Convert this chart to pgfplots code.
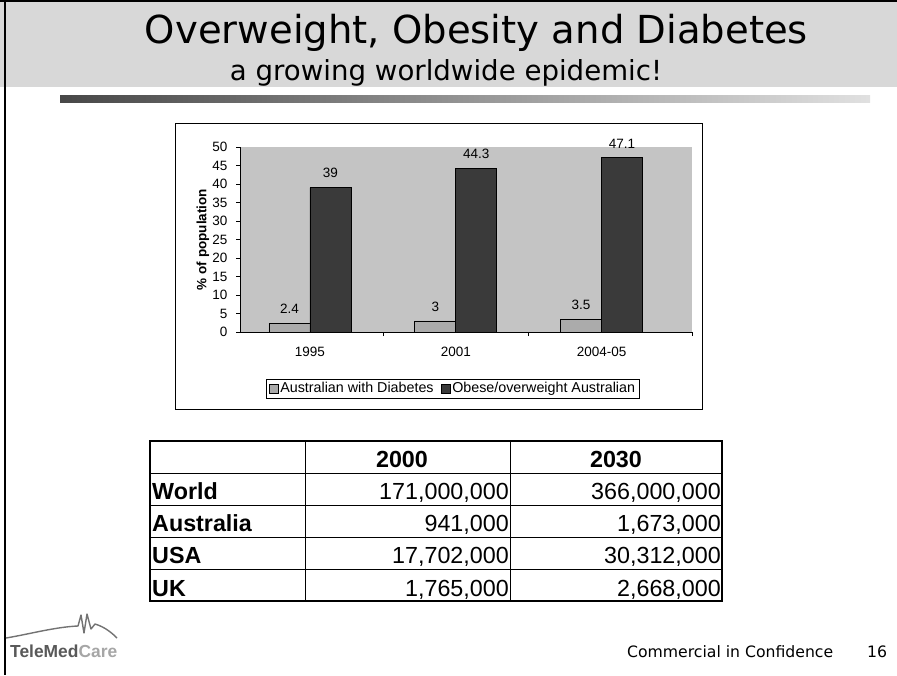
\documentclass[border=0pt]{standalone}
\usepackage{fontspec}
\setmainfont{Liberation Sans}
\newfontfamily\verd{DejaVu Sans}
\usepackage{graphicx}
\usepackage{pgfplots}
\pgfplotsset{compat=1.18}

\definecolor{hdrgray}{HTML}{D8D8D8}
\definecolor{plotgray}{HTML}{C4C4C4}
\definecolor{diabgray}{HTML}{ABABAB}
\definecolor{obesegray}{HTML}{3A3A3A}

\pgfplotsset{mylegend/.style={legend image code/.code={\draw[##1] (0pt,-4.5pt) rectangle (9pt,4.5pt);}}}

\pgfplotstableread{
x diab obese
0 2.4 39
1 3   44.3
2 3.5 47.1
}\datatable

\begin{document}
\begin{tikzpicture}[x=1pt,y=1pt]
\path[use as bounding box] (0,0) rectangle (897,-675);
\fill[white] (0,0) rectangle (897,-675);
% header band
\fill[hdrgray] (0,0) rectangle (897,-87);
\draw[line width=1.2pt] (0,-1) -- (897,-1);
\draw[line width=1.5pt] (5,0) -- (5,-675);
% title
\node[anchor=base, inner sep=0pt] at (476.5,-43) {\resizebox{663pt}{!}{\verd Overweight, Obesity and Diabetes}};
\node[anchor=base, inner sep=0pt] at (446,-80) {\resizebox{432pt}{!}{\verd a growing worldwide epidemic!}};
% gradient bar
\shade[left color=black!72, middle color=black!62, right color=black!12] (60,-95) rectangle (870,-102);
% chart box
\draw[fill=white, line width=0.8pt] (175,-123) rectangle (702,-409);
\begin{axis}[
  at={(240pt,-332pt)}, anchor=south west, scale only axis,
  width=452pt, height=185pt,
  xmin=-0.48, xmax=2.62, ymin=0, ymax=50,
  axis x line*=bottom, axis y line*=left,
  axis line style={line width=0.8pt},
  axis background/.style={fill=plotgray},
  /pgf/number format/assume math mode=true,
  tick label style={font=\fontsize{13.5}{14}\selectfont},
  ytick={0,5,...,50},
  yticklabel style={xshift=-5pt},
  tick align=outside,
  major tick length=4pt,
  tick style={black, line width=0.7pt},
  xtick={0.5,1.5,2.62},
  xticklabels={,,},
  extra x ticks={0,1,2},
  extra x tick labels={1995,2001,2004-05},
  extra x tick style={major tick length=0pt, xticklabel style={yshift=-12pt}},
  ylabel={\textbf{\% of population}},
  ylabel style={at={(axis description cs:-0.082,0.5)}, anchor=center, font=\fontsize{13.5}{14}\selectfont},
  ybar=0pt, bar width=41pt,
  nodes near coords,
  every node near coord/.append style={font=\fontsize{13.5}{14}\selectfont, yshift=6pt},
  legend style={at={(0.471,-0.305)}, anchor=center, legend columns=2, draw=black, line width=0.6pt,
    font=\fontsize{14.3}{15}\selectfont, inner xsep=2pt, inner ysep=1.5pt,
    /tikz/every even column/.append style={column sep=5pt}},
]
\addplot[draw=black, line width=0.6pt, fill=diabgray, mylegend]
  table[x=x, y=diab] {\datatable};
\addlegendentry{Australian with Diabetes}
\addplot[draw=black, line width=0.6pt, fill=obesegray, mylegend]
  table[x=x, y=obese] {\datatable};
\addlegendentry{Obese/overweight Australian}
\end{axis}
% table
\begin{scope}
\draw[line width=1.2pt] (150,-441) rectangle (722,-601);
\foreach \yy in {473,505,537,569} {\draw[line width=0.8pt] (150,-\yy) -- (722,-\yy);}
\draw[line width=1pt] (305,-441) -- (305,-601);
\draw[line width=1pt] (510,-441) -- (510,-601);
\def\tfont{\fontsize{23.3}{24}\selectfont}
\node[anchor=base, inner sep=0pt] at (402,-467) {\tfont\bfseries 2000};
\node[anchor=base, inner sep=0pt] at (616,-467) {\tfont\bfseries 2030};
\node[anchor=base west, inner sep=0pt] at (152,-499) {\tfont\bfseries World};
\node[anchor=base west, inner sep=0pt] at (152,-531) {\tfont\bfseries Australia};
\node[anchor=base west, inner sep=0pt] at (152,-563) {\tfont\bfseries USA};
\node[anchor=base west, inner sep=0pt] at (152,-596) {\tfont\bfseries UK};
\node[anchor=base east, inner sep=0pt] at (509,-499) {\tfont 171,000,000};
\node[anchor=base east, inner sep=0pt] at (509,-531) {\tfont 941,000};
\node[anchor=base east, inner sep=0pt] at (509,-563) {\tfont 17,702,000};
\node[anchor=base east, inner sep=0pt] at (509,-596) {\tfont 1,765,000};
\node[anchor=base east, inner sep=0pt] at (721,-499) {\tfont 366,000,000};
\node[anchor=base east, inner sep=0pt] at (721,-531) {\tfont 1,673,000};
\node[anchor=base east, inner sep=0pt] at (721,-563) {\tfont 30,312,000};
\node[anchor=base east, inner sep=0pt] at (721,-596) {\tfont 2,668,000};
\end{scope}
% logo
\draw[black!55, line width=1.4pt, line join=round]
  (6,-638) .. controls (30,-634) and (55,-627) .. (78,-626)
  -- (81,-615) -- (84,-633) -- (87,-614) -- (91,-629) -- (95,-624)
  .. controls (105,-627) and (112,-633) .. (117,-638);
\node[anchor=base west, inner sep=0pt] at (10,-657) {\resizebox{107pt}{!}{\bfseries\color{black!65}TeleMed\color{black!35}Care}};
% footer
\node[anchor=base west, inner sep=0pt] at (627,-657) {\resizebox{206pt}{!}{\verd Commercial in Confidence}};
\node[anchor=base west, inner sep=0pt] at (867,-657) {\resizebox{20pt}{!}{\verd 16}};
\end{tikzpicture}
\end{document}
